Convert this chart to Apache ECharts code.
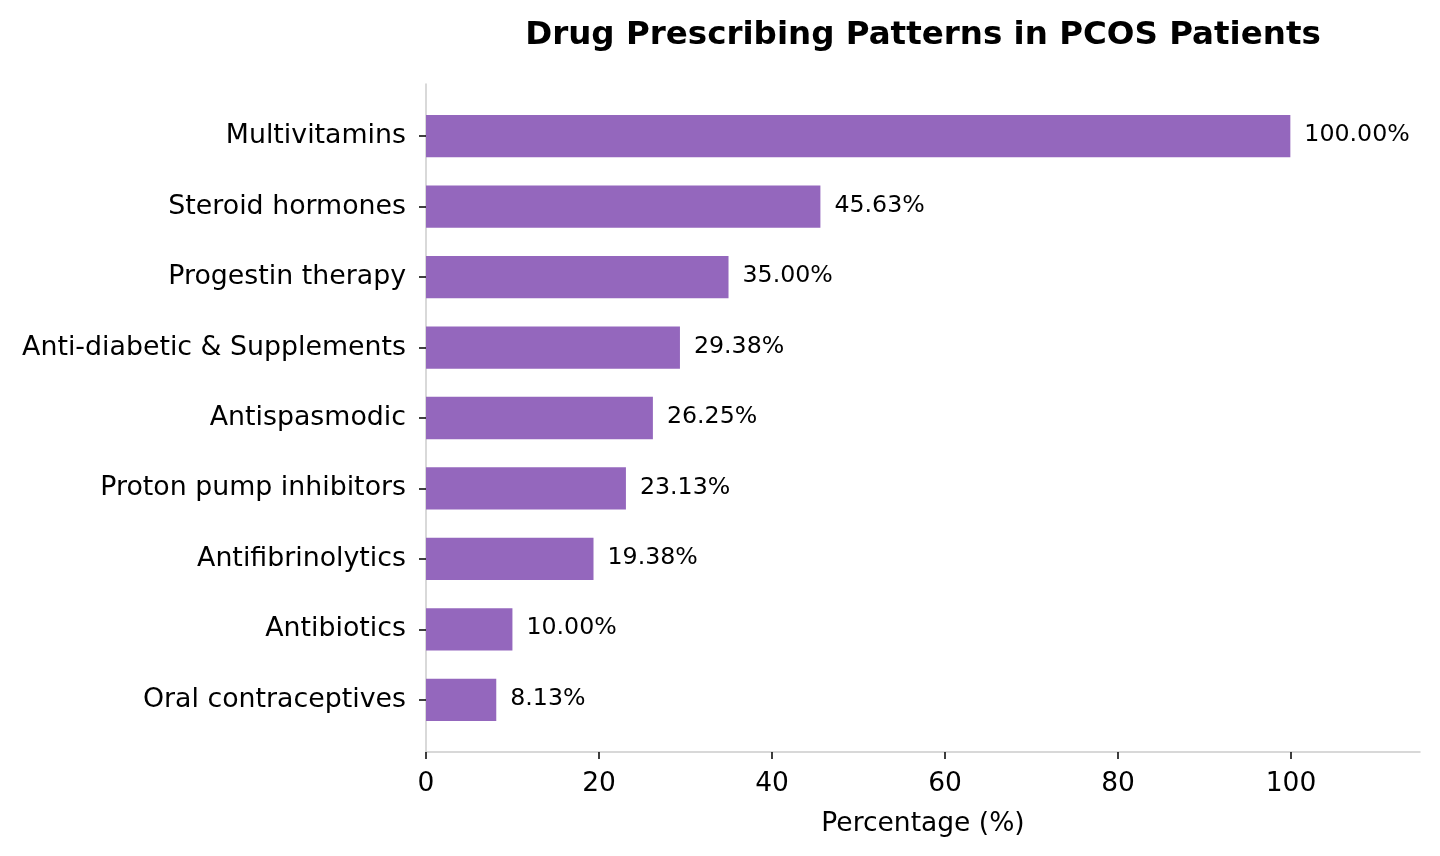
<!DOCTYPE html>
<html>
<head>
<meta charset="utf-8">
<script src="https://cdn.jsdelivr.net/npm/echarts@6/dist/echarts.min.js"></script>
<style>
  html, body { margin: 0; padding: 0; background: #fff; }
  #main { width: 1440px; height: 856px; }
</style>
</head>
<body>
<div id="main"></div>
<script>
// 药物类别（从上到下）
var categories = ['Multivitamins', 'Steroid hormones', 'Progestin therapy', 'Anti-diabetic & Supplements',
    'Antispasmodic', 'Proton pump inhibitors', 'Antifibrinolytics', 'Antibiotics', 'Oral contraceptives'];
// 百分比
var percentages = [100.00, 45.63, 35.00, 29.38, 26.25, 23.13, 19.38, 10.00, 8.13];
var xTicks = [0, 20, 40, 60, 80, 100];

var chart = echarts.init(document.getElementById('main'));
var fontFamily = 'DejaVu Sans';

var option = {
    backgroundColor: '#ffffff',
    animation: false,
    textStyle: { fontFamily: fontFamily },
    title: {
        text: 'Drug Prescribing Patterns in PCOS Patients',
        left: 918,
        top: 14,
        textAlign: 'center',
        textStyle: { fontFamily: fontFamily, fontSize: 32.5, fontWeight: 'bold', color: '#000' }
    },
    grid: [
        { left: 426, right: 20, top: 101, bottom: 121 },  // 柱子
        { left: 426, right: 20, top: 84, bottom: 104 },   // 坐标轴线
        { left: 426, right: 149, top: 84, bottom: 104 }   // x 刻度 0~100
    ],
    xAxis: [
        {
            gridIndex: 0, type: 'value', min: 0, max: 115,
            axisLine: { show: false }, axisTick: { show: false },
            axisLabel: { show: false }, splitLine: { show: false }
        },
        {
            gridIndex: 1, type: 'value', min: 0, max: 115,
            name: 'Percentage (%)', nameLocation: 'middle', nameGap: 59,
            nameTextStyle: { fontFamily: fontFamily, fontSize: 26.5, color: '#000' },
            axisLine: { show: true, lineStyle: { color: '#cccccc', width: 1.5 } },
            axisTick: { show: false }, axisLabel: { show: false }, splitLine: { show: false }
        },
        {
            gridIndex: 2, type: 'value', min: xTicks[0], max: xTicks[xTicks.length - 1], interval: 20,
            axisLine: { show: false },
            axisTick: { show: true, length: 7, lineStyle: { color: '#000', width: 1.5 } },
            axisLabel: { fontFamily: fontFamily, fontSize: 26.5, color: '#000', margin: 19 },
            splitLine: { show: false }
        }
    ],
    yAxis: [
        {
            gridIndex: 0, type: 'category', inverse: true, data: categories,
            axisLine: { show: false },
            axisTick: { show: true, alignWithLabel: true, length: 7, lineStyle: { color: '#000', width: 1.5 } },
            axisLabel: { fontFamily: fontFamily, fontSize: 26.8, color: '#000', margin: 20 }
        },
        {
            gridIndex: 1, type: 'value', min: 0, max: 1,
            axisLine: { show: true, lineStyle: { color: '#cccccc', width: 1.5 } },
            axisTick: { show: false }, axisLabel: { show: false }, splitLine: { show: false }
        },
        {
            gridIndex: 2, type: 'value', show: false, min: 0, max: 1
        }
    ],
    series: [
        {
            type: 'bar',
            xAxisIndex: 0, yAxisIndex: 0,
            data: percentages,
            barWidth: '60%',
            itemStyle: { color: '#9467bd' },
            label: {
                show: true, position: 'right', distance: 14, offset: [0, -1],
                fontFamily: fontFamily, fontSize: 23.7, color: '#000',
                formatter: function (p) { return p.value.toFixed(2) + '%'; }
            }
        }
    ]
};

chart.setOption(option);
</script>
</body>
</html>
